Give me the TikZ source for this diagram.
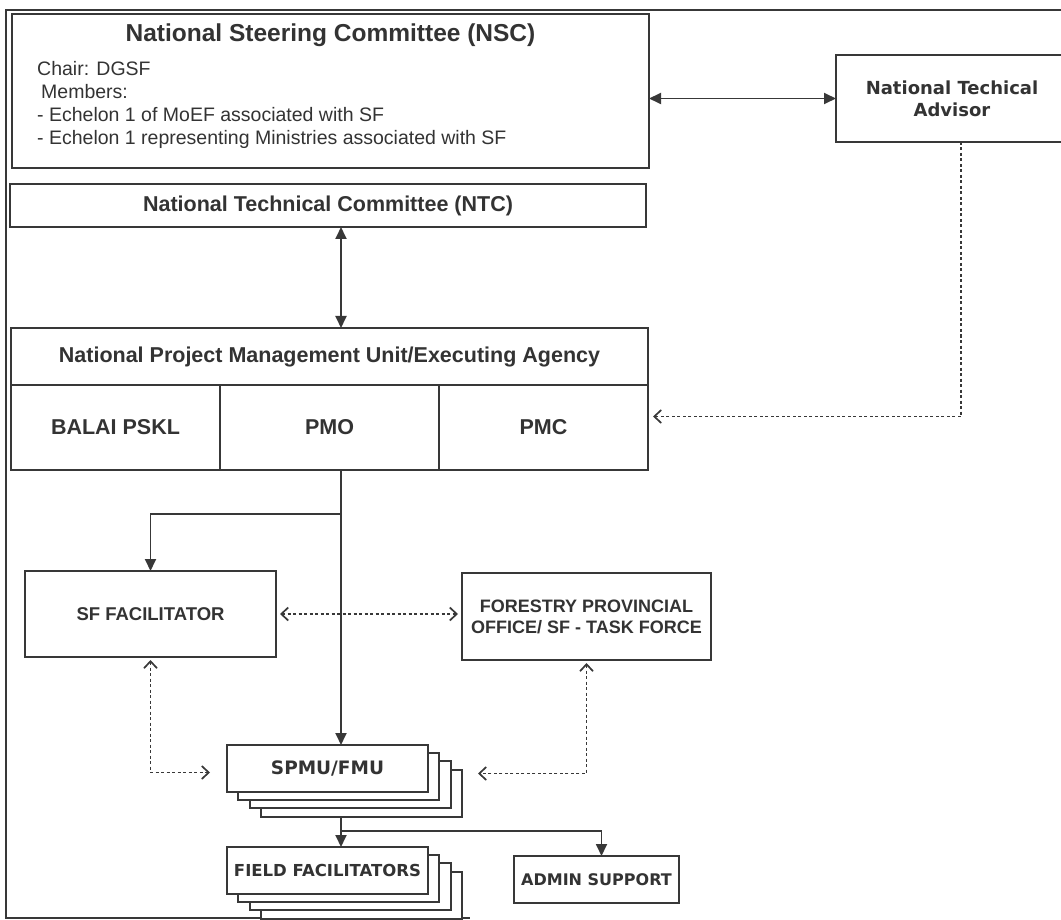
\documentclass[tikz,border=0pt]{standalone}
\usepackage{fontspec}
\setmainfont{Liberation Sans}
\newfontfamily\dvsans{DejaVu Sans}
\usetikzlibrary{arrows.meta,calc,positioning,shadows}

\definecolor{ink}{HTML}{333333}
\definecolor{edge}{HTML}{383838}

\tikzset{
  box/.style={draw=edge,line width=1.8pt,fill=white,inner sep=0pt,outer sep=0pt,text=ink,
    font=\bfseries\fontsize{21.5}{25}\selectfont,align=center},
  stack/.style={box,
    copy shadow={shadow xshift=34pt,shadow yshift=-25pt},
    copy shadow={shadow xshift=23pt,shadow yshift=-16pt},
    copy shadow={shadow xshift=11pt,shadow yshift=-8pt}},
  link/.style={draw=edge,line width=1.8pt,-{Triangle[length=12pt,width=11pt]}},
  twolink/.style={link,{Triangle[length=12pt,width=11pt]}-{Triangle[length=12pt,width=11pt]}},
  dotlink/.style={draw=edge,line width=1.7pt,dash pattern=on 3pt off 2.5pt,
    {Straight Barb[length=7pt,width=13pt]}-{Straight Barb[length=7pt,width=13pt]}},
  dotend/.style={dotlink,-{Straight Barb[length=7pt,width=13pt]}},
}

\begin{document}
\begin{tikzpicture}[x=1pt,y=-1pt]
\useasboundingbox (0,0) rectangle (1061,920);

% outer frame
\draw[draw=edge,line width=2.2pt] (1061,10) -- (6,10) -- (6,918) -- (470,918);

% national level
\node[box,minimum width=637pt,minimum height=154pt] (nsc) at (330.5,91) {};
\node[text=ink,font=\bfseries\fontsize{24.5}{29}\selectfont] (nsctitle) at (330.5,35) {National Steering Committee (NSC)};
\node[anchor=north west,inner sep=0pt,align=left,text=ink,font=\fontsize{19.5}{23}\selectfont] (nscmembers) at (37,61)
  {Chair: DGSF\\\hspace*{4pt}Members:\\- Echelon 1 of MoEF associated with SF\\- Echelon 1 representing Ministries associated with SF};

\node[box,font=\dvsans\bfseries\fontsize{18}{22}\selectfont,minimum width=232pt,minimum height=87pt] (nta) at (952,98.5) {National Techical\\Advisor};

\node[box,minimum width=636pt,minimum height=43pt] (ntc) at (328,205.5) {National Technical Committee (NTC)};

\node[box,minimum width=637pt,minimum height=57pt] (npmu) at (329.5,356.5) {National Project Management Unit/Executing Agency};
\node[box,minimum width=209pt,minimum height=85pt,anchor=north west] (balai) at (npmu.south west) {BALAI PSKL};
\node[box,minimum width=219pt,minimum height=85pt,right=0pt of balai] (pmo) {PMO};
\node[box,minimum width=209pt,minimum height=85pt,right=0pt of pmo] (pmc) {PMC};

% field level
\node[box,font=\bfseries\fontsize{18.5}{22}\selectfont,minimum width=251pt,minimum height=86pt] (sf) at (150.5,614) {SF FACILITATOR};
\node[box,font=\bfseries\fontsize{18}{21}\selectfont,minimum width=249pt,minimum height=87pt] (fpo) at (586.5,616.5) {FORESTRY PROVINCIAL\\OFFICE/ SF - TASK FORCE};

\node[stack,font=\dvsans\bfseries\fontsize{18.5}{22}\selectfont,minimum width=201pt,minimum height=47pt] (spmu) at (327.5,768.5) {SPMU/FMU};
\node[stack,font=\dvsans\bfseries\fontsize{16.5}{20}\selectfont,minimum width=201pt,minimum height=47pt] (ff) at (327.5,870.5) {FIELD FACILITATORS};
\node[box,font=\dvsans\bfseries\fontsize{16}{20}\selectfont,minimum width=165pt,minimum height=47pt] (admin) at (596.5,879.5) {ADMIN SUPPORT};

\coordinate (spine) at (341,470);
\coordinate (split1) at (341,514);
\coordinate (split2) at (341,831);

% connectors
\draw[twolink] (nsc.east |- nta.west) -- (nta.west);
\draw[twolink] (ntc.south -| spine) -- (npmu.north -| spine);
\draw[link] (pmo.south -| spine) -- (spmu.north -| spine);
\draw[link] (split1) -| (sf.north);
\draw[link] ($(spmu.south -| spine)+(0,25)$) -- (ff.north -| spine);
\draw[link] (split2) -| ($(admin.north)+(5,0)$);

\draw[dotlink,shorten <=4pt,shorten >=4pt] (sf.east) -- (sf.east -| fpo.west);
\draw[dotlink,shorten <=3pt,shorten >=17pt] (sf.south) |- ($(spmu.west)+(0,4)$);
\draw[dotlink,shorten <=3pt,shorten >=50pt] (fpo.south) |- ($(spmu.east)+(0,5)$);
\draw[dotend,shorten >=5pt] ($(nta.south)+(9,0)$) |- ($(pmc.east)+(0,-11)$);
\end{tikzpicture}
\end{document}
